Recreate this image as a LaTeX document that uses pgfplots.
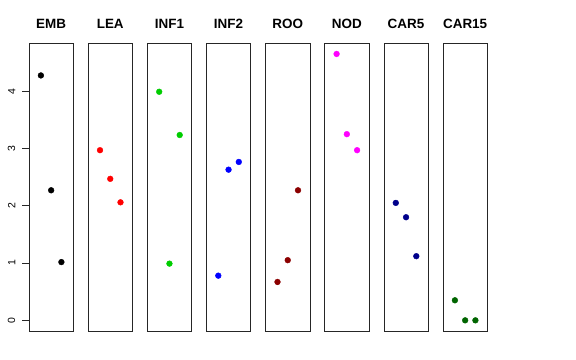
\documentclass[border=0pt]{standalone}
\usepackage{pgfplots}
\pgfplotsset{compat=1.18}
\usepackage{fontspec}
\setmainfont{Liberation Sans}
\definecolor{rgreen}{HTML}{00CD00}
\definecolor{rblue}{HTML}{0000FF}
\definecolor{rdarkred}{HTML}{8B0000}
\definecolor{rmagenta}{HTML}{FF00FF}
\definecolor{rnavy}{HTML}{00008B}
\definecolor{rdarkgreen}{HTML}{006400}
\pgfplotsset{
  panel/.style={
    scale only axis, width=44.3bp, height=287.7bp,
    anchor=south west,
    xmin=-0.16, xmax=4.16, ymin=-0.186, ymax=4.836,
    xtick=\empty, ytick=\empty,
    axis line style={black!85, line width=0.7pt},
    title style={at={(0.5,1)}, anchor=base, yshift=9.3bp, font=\fontsize{13.5}{15}\selectfont\bfseries},
  },
  pts/.style={only marks, mark=*, mark size=2.9bp, mark options={draw=#1, fill=#1}, color=#1},
}
\begin{document}
\begin{tikzpicture}
\path[use as bounding box] (0,0) rectangle (576bp,360bp);
\begin{axis}[panel, at={(29bp,29bp)}, title={EMB}, clip=false,
  ytick={0,1,2,3,4}, ytick pos=left,
  major tick length=0pt,
  yticklabel shift=12.5bp,
  yticklabel style={rotate=90, anchor=south, font=\fontsize{10.5}{11}\selectfont, inner sep=1bp},
  /pgf/number format/assume math mode=true]
\addplot[pts=black] coordinates {(1,4.275) (2,2.27) (3,1.017)};
\coordinate (t0) at (axis cs:-0.16,0);
\coordinate (t1) at (axis cs:-0.16,1);
\coordinate (t2) at (axis cs:-0.16,2);
\coordinate (t3) at (axis cs:-0.16,3);
\coordinate (t4) at (axis cs:-0.16,4);
\end{axis}
\foreach \t in {t0,t1,t2,t3,t4}{
  \draw[black!85, line width=0.9bp] (\t) -- ++(-7.5bp,0bp);
}
\begin{axis}[panel, at={(88.1bp,29bp)}, title={LEA}]
\addplot[pts=red] coordinates {(1,2.97) (2,2.47) (3,2.06)};
\end{axis}
\begin{axis}[panel, at={(147.3bp,29bp)}, title={INF1}]
\addplot[pts=rgreen] coordinates {(1,3.99) (2,0.99) (3,3.235)};
\end{axis}
\begin{axis}[panel, at={(206.4bp,29bp)}, title={INF2}]
\addplot[pts=rblue] coordinates {(1,0.78) (2,2.63) (3,2.765)};
\end{axis}
\begin{axis}[panel, at={(265.6bp,29bp)}, title={ROO}]
\addplot[pts=rdarkred] coordinates {(1,0.67) (2,1.05) (3,2.27)};
\end{axis}
\begin{axis}[panel, at={(324.7bp,29bp)}, title={NOD}]
\addplot[pts=rmagenta] coordinates {(1,4.65) (2,3.25) (3,2.97)};
\end{axis}
\begin{axis}[panel, at={(383.9bp,29bp)}, title={CAR5}]
\addplot[pts=rnavy] coordinates {(1,2.05) (2,1.80) (3,1.12)};
\end{axis}
\begin{axis}[panel, at={(443bp,29bp)}, title={CAR15}]
\addplot[pts=rdarkgreen] coordinates {(1,0.35) (2,0.0) (3,0.0)};
\end{axis}
\end{tikzpicture}
\end{document}
